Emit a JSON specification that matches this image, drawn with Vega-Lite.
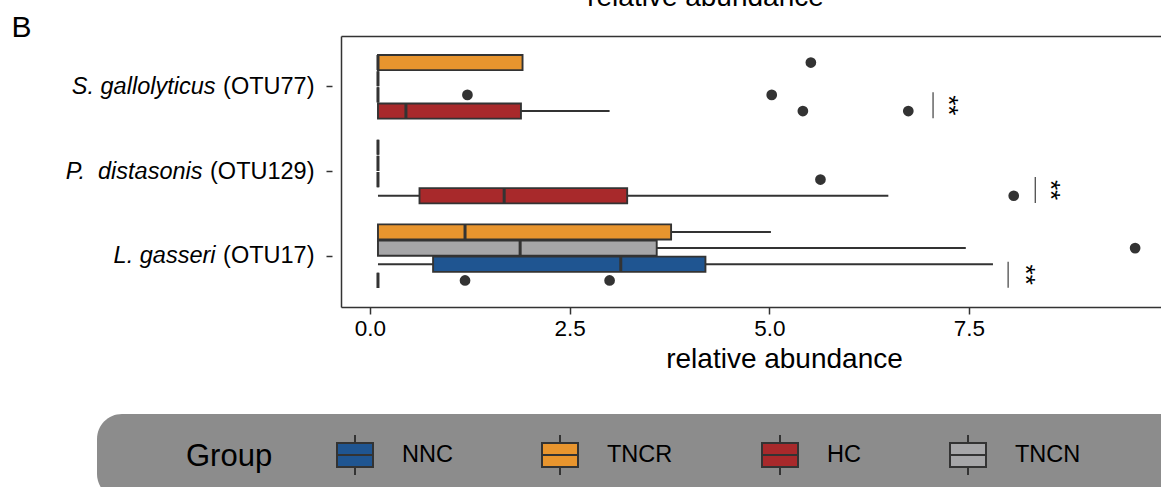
{
  "$schema": "https://vega.github.io/schema/vega-lite/v6.json",
  "autosize": "none",
  "padding": {"left": 341, "top": 36, "right": 0, "bottom": 180},
  "width": 820,
  "height": 271,
  "background": "white",
  "config": {"view": {"stroke": null}, "font": "Liberation Sans", "axis": {"grid": false}},
  "datasets": {
    "boxes": [
      {"taxon": "S. gallolyticus (OTU77)", "group": "TNCR", "lo": 0.1, "q1": 0.1, "median": 0.1, "q3": 1.91, "hi": 1.91},
      {"taxon": "S. gallolyticus (OTU77)", "group": "TNCN", "lo": 0.1, "q1": 0.1, "median": 0.1, "q3": 0.1, "hi": 0.1},
      {"taxon": "S. gallolyticus (OTU77)", "group": "NNC", "lo": 0.1, "q1": 0.1, "median": 0.1, "q3": 0.1, "hi": 0.1},
      {"taxon": "S. gallolyticus (OTU77)", "group": "HC", "lo": 0.1, "q1": 0.1, "median": 0.45, "q3": 1.89, "hi": 3.0},
      {"taxon": "P. distasonis (OTU129)", "group": "TNCR", "lo": 0.1, "q1": 0.1, "median": 0.1, "q3": 0.1, "hi": 0.1},
      {"taxon": "P. distasonis (OTU129)", "group": "TNCN", "lo": 0.1, "q1": 0.1, "median": 0.1, "q3": 0.1, "hi": 0.1},
      {"taxon": "P. distasonis (OTU129)", "group": "NNC", "lo": 0.1, "q1": 0.1, "median": 0.1, "q3": 0.1, "hi": 0.1},
      {"taxon": "P. distasonis (OTU129)", "group": "HC", "lo": 0.1, "q1": 0.62, "median": 1.68, "q3": 3.22, "hi": 6.49},
      {"taxon": "L. gasseri (OTU17)", "group": "TNCR", "lo": 0.1, "q1": 0.1, "median": 1.19, "q3": 3.77, "hi": 5.02},
      {"taxon": "L. gasseri (OTU17)", "group": "TNCN", "lo": 0.1, "q1": 0.1, "median": 1.88, "q3": 3.59, "hi": 7.46},
      {"taxon": "L. gasseri (OTU17)", "group": "NNC", "lo": 0.1, "q1": 0.79, "median": 3.14, "q3": 4.2, "hi": 7.8},
      {"taxon": "L. gasseri (OTU17)", "group": "HC", "lo": 0.1, "q1": 0.1, "median": 0.1, "q3": 0.1, "hi": 0.1}
    ],
    "outliers": [
      {"taxon": "S. gallolyticus (OTU77)", "group": "TNCR", "value": 5.52},
      {"taxon": "S. gallolyticus (OTU77)", "group": "NNC", "value": 1.22},
      {"taxon": "S. gallolyticus (OTU77)", "group": "NNC", "value": 5.03},
      {"taxon": "S. gallolyticus (OTU77)", "group": "HC", "value": 5.42},
      {"taxon": "S. gallolyticus (OTU77)", "group": "HC", "value": 6.74},
      {"taxon": "P. distasonis (OTU129)", "group": "NNC", "value": 5.64},
      {"taxon": "P. distasonis (OTU129)", "group": "HC", "value": 8.06},
      {"taxon": "L. gasseri (OTU17)", "group": "TNCN", "value": 9.58},
      {"taxon": "L. gasseri (OTU17)", "group": "HC", "value": 1.19},
      {"taxon": "L. gasseri (OTU17)", "group": "HC", "value": 3.0}
    ],
    "sig": [
      {"taxon": "S. gallolyticus (OTU77)", "line": 7.05, "star": 7.24, "label": "**"},
      {"taxon": "P. distasonis (OTU129)", "line": 8.33, "star": 8.52, "label": "**"},
      {"taxon": "L. gasseri (OTU17)", "line": 7.99, "star": 8.2, "label": "**"}
    ]
  },
  "layer": [
    {
      "data": {"name": "boxes"},
      "mark": {"type": "rule", "stroke": "#333333", "strokeWidth": 2},
      "encoding": {
        "x": {"field": "lo", "type": "quantitative", "scale": {"domain": [-0.363, 9.904], "nice": false, "zero": false},
          "axis": {"orient": "bottom", "values": [0, 2.5, 5, 7.5], "format": ".1f", "domain": true, "domainColor": "#333333", "domainWidth": 1.5, "ticks": true, "tickSize": 7, "tickColor": "#333333", "tickWidth": 1.5, "labelFontSize": 22.5, "labelColor": "#000000", "labelPadding": 3, "labelFont": "Liberation Sans", "labelFlush": false, "labelOverlap": false, "title": "relative abundance", "titleFont": "Liberation Sans", "titleFontSize": 28, "titleFontWeight": "normal", "titleColor": "#000000", "titleX": 443, "titleY": 60, "titleAlign": "center", "titleBaseline": "alphabetic", "grid": false}},
        "x2": {"field": "hi"},
        "y": {"field": "taxon", "type": "nominal", "scale": {"type": "band", "domain": ["S. gallolyticus (OTU77)", "P. distasonis (OTU129)", "L. gasseri (OTU17)"], "paddingInner": 0, "paddingOuter": 0.1},
          "axis": {"orient": "left", "offset": 9, "domain": false, "ticks": true, "tickSize": 6, "tickColor": "#333333", "tickWidth": 1.5, "labelExpr": "substring(datum.value, indexof(datum.value, '('))", "labelPadding": 12, "labelFontSize": 23.5, "labelColor": "#000000", "labelFont": "Liberation Sans", "labelLimit": 400, "title": null, "grid": false}},
        "yOffset": {"field": "group", "type": "nominal", "scale": {"type": "band", "domain": ["TNCR", "TNCN", "NNC", "HC"], "paddingInner": 0.06, "paddingOuter": 0.65}}
      }
    },
    {
      "data": {"name": "boxes"},
      "mark": {"type": "bar", "stroke": "#333333", "strokeWidth": 1.9, "opacity": 1},
      "encoding": {
        "x": {"field": "q1", "type": "quantitative", "axis": null},
        "x2": {"field": "q3"},
        "y": {"field": "taxon", "type": "nominal",
          "axis": {"orient": "left", "offset": 0, "domain": true, "domainColor": "#333333", "domainWidth": 1.5, "ticks": true, "tickSize": 6, "tickOpacity": 0,
            "labelExpr": "datum.value == 'P. distasonis (OTU129)' ? 'P.\u00a0\u00a0distasonis' : substring(datum.value, 0, indexof(datum.value, ' ('))",
            "labelPadding": {"condition": {"test": "datum.value == 'P. distasonis (OTU129)'", "value": 133}, "value": 120},
            "labelFontSize": 23.5, "labelFontStyle": "italic", "labelColor": "#000000", "labelFont": "Liberation Sans", "labelLimit": 400,
            "title": "B", "titleAngle": 0, "titleX": -330, "titleY": 0, "titleAlign": "left", "titleBaseline": "alphabetic", "titleFont": "Liberation Sans", "titleFontSize": 30, "titleFontWeight": "normal", "titleColor": "#000000", "grid": false}},
        "yOffset": {"field": "group", "type": "nominal"},
        "color": {"field": "group", "type": "nominal",
          "scale": {"domain": ["NNC", "TNCR", "HC", "TNCN"], "range": ["#1f5591", "#e8952e", "#a8292b", "#a6a6a8"]},
          "legend": {"orient": "none", "legendX": -244, "legendY": 378, "direction": "horizontal", "gridAlign": "each", "columnPadding": 85,
            "title": "\u2800\u2800\u2800Group", "titleOrient": "left", "titleAnchor": "middle", "titleBaseline": "middle", "titleAngle": 0, "titleFont": "Liberation Sans", "titleFontSize": 31, "titleFontWeight": "normal", "titleColor": "#000000", "titlePadding": 61,
            "labelExpr": "datum.label == 'TNCN' ? 'TNCN\u2800\u2800\u2800\u2800\u2800\u2800' : datum.label",
            "labelFont": "Liberation Sans", "labelFontSize": 23.5, "labelColor": "#000000", "labelOffset": 26, "labelLimit": 400,
            "symbolType": "M-0.9,-0.6H0.9V0.6H-0.9Z M-0.9,0H0.9 M0,-0.6V-1 M0,0.6V1", "symbolSize": 1600, "symbolStrokeColor": "#333333", "symbolStrokeWidth": 2, "symbolOpacity": 1,
            "fillColor": "#8c8c8c", "cornerRadius": 25, "padding": 20}}
      }
    },
    {
      "data": {"name": "boxes"},
      "mark": {"type": "bar", "fillOpacity": 0, "stroke": "#333333", "strokeWidth": 3},
      "encoding": {
        "x": {"field": "median", "type": "quantitative", "axis": null},
        "x2": {"field": "median"},
        "y": {"field": "taxon", "type": "nominal", "axis": null},
        "yOffset": {"field": "group", "type": "nominal"}
      }
    },
    {
      "data": {"name": "outliers"},
      "mark": {"type": "point", "filled": true, "color": "#333333", "size": 115, "opacity": 1},
      "encoding": {
        "x": {"field": "value", "type": "quantitative",
          "axis": {"orient": "top", "domain": true, "domainColor": "#333333", "domainWidth": 1.5, "ticks": false, "labels": false, "grid": false, "title": "relative abundance", "titleFont": "Liberation Sans", "titleFontSize": 28, "titleFontWeight": "normal", "titleColor": "#000000", "titleX": 364, "titleY": -31, "titleAlign": "center", "titleBaseline": "alphabetic"}},
        "y": {"field": "taxon", "type": "nominal", "axis": null},
        "yOffset": {"field": "group", "type": "nominal"}
      }
    },
    {
      "data": {"name": "sig"},
      "mark": {"type": "tick", "orient": "vertical", "size": 26, "thickness": 1.3, "color": "#000000", "yOffset": 18.5},
      "encoding": {
        "x": {"field": "line", "type": "quantitative", "axis": null},
        "y": {"field": "taxon", "type": "nominal", "axis": null}
      }
    },
    {
      "data": {"name": "sig"},
      "mark": {"type": "text", "angle": 90, "fontSize": 26, "font": "Liberation Sans", "align": "center", "baseline": "middle", "color": "#000000", "yOffset": 18.5},
      "encoding": {
        "x": {"field": "star", "type": "quantitative", "axis": null},
        "y": {"field": "taxon", "type": "nominal", "axis": null},
        "text": {"field": "label"}
      }
    }
  ],
  "resolve": {"axis": {"x": "independent", "y": "independent"}}
}
